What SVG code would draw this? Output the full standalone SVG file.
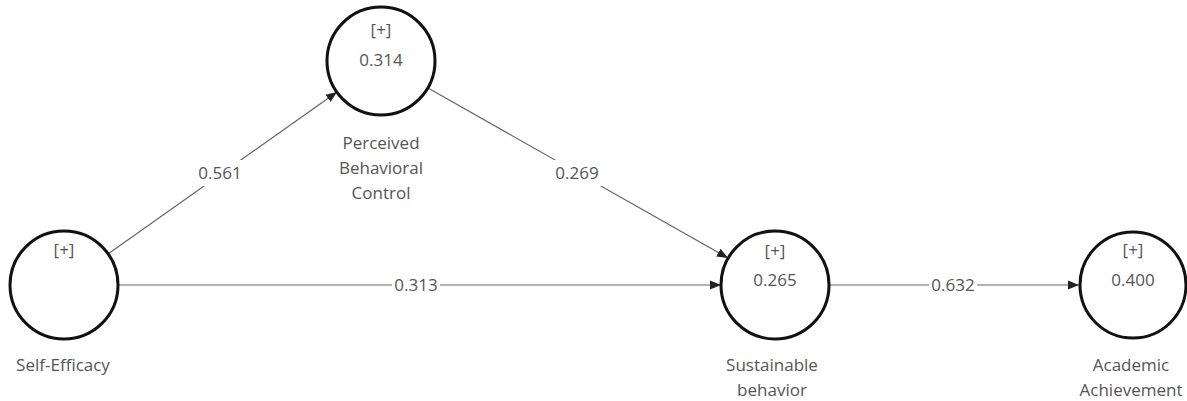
<svg xmlns="http://www.w3.org/2000/svg" width="1187" height="401" viewBox="0 0 1187 401">
<style>
.node{fill:#fff;stroke:#111;stroke-width:3}
.t{font-family:"Open Sans","Noto Sans",sans-serif;font-size:17px;fill:#555;text-anchor:middle}
.edge{stroke:#666;stroke-width:1.2;fill:none}
.lbl{fill:#fff}
</style>
<defs>
<marker id="arr" viewBox="0 0 10 10" refX="10" refY="5" markerWidth="11" markerHeight="11" markerUnits="userSpaceOnUse" orient="auto">
<path d="M0,1 L10,5 L0,9 Z" fill="#222"/>
</marker>
</defs>
<g id="connectors">
<line class="edge" x1="108" y1="254" x2="337" y2="92" marker-end="url(#arr)"/>
<line class="edge" x1="428" y1="88" x2="728" y2="258" marker-end="url(#arr)"/>
<line class="edge" x1="119" y1="285" x2="721" y2="285" marker-end="url(#arr)"/>
<line class="edge" x1="830" y1="285" x2="1079" y2="285" marker-end="url(#arr)"/>
<rect class="lbl" x="194" y="160" width="52" height="26"/>
<text class="t" x="220" y="179">0.561</text>
<rect class="lbl" x="551" y="160" width="52" height="26"/>
<text class="t" x="577" y="179">0.269</text>
<rect class="lbl" x="392" y="275" width="48" height="20"/>
<text class="t" x="416" y="291">0.313</text>
<rect class="lbl" x="929" y="275" width="48" height="20"/>
<text class="t" x="953" y="291">0.632</text>
</g>
<g id="self-efficacy">
<circle class="node" cx="64" cy="285" r="54"/>
<text class="t" x="64" y="256">[+]</text>
<text class="t" x="63" y="371">Self-Efficacy</text>
</g>
<g id="perceived-behavioral-control">
<circle class="node" cx="381" cy="61" r="54"/>
<text class="t" x="381" y="36">[+]</text>
<text class="t" x="381" y="66">0.314</text>
<text class="t" x="381" y="149">Perceived</text>
<text class="t" x="381" y="174">Behavioral</text>
<text class="t" x="381" y="199">Control</text>
</g>
<g id="sustainable-behavior">
<circle class="node" cx="775" cy="285" r="54"/>
<text class="t" x="775" y="257">[+]</text>
<text class="t" x="775" y="286">0.265</text>
<text class="t" x="772" y="371">Sustainable</text>
<text class="t" x="772" y="396">behavior</text>
</g>
<g id="academic-achievement">
<circle class="node" cx="1133" cy="285" r="53"/>
<text class="t" x="1133" y="256">[+]</text>
<text class="t" x="1133" y="286">0.400</text>
<text class="t" x="1131" y="371">Academic</text>
<text class="t" x="1131" y="396">Achievement</text>
</g>
</svg>
